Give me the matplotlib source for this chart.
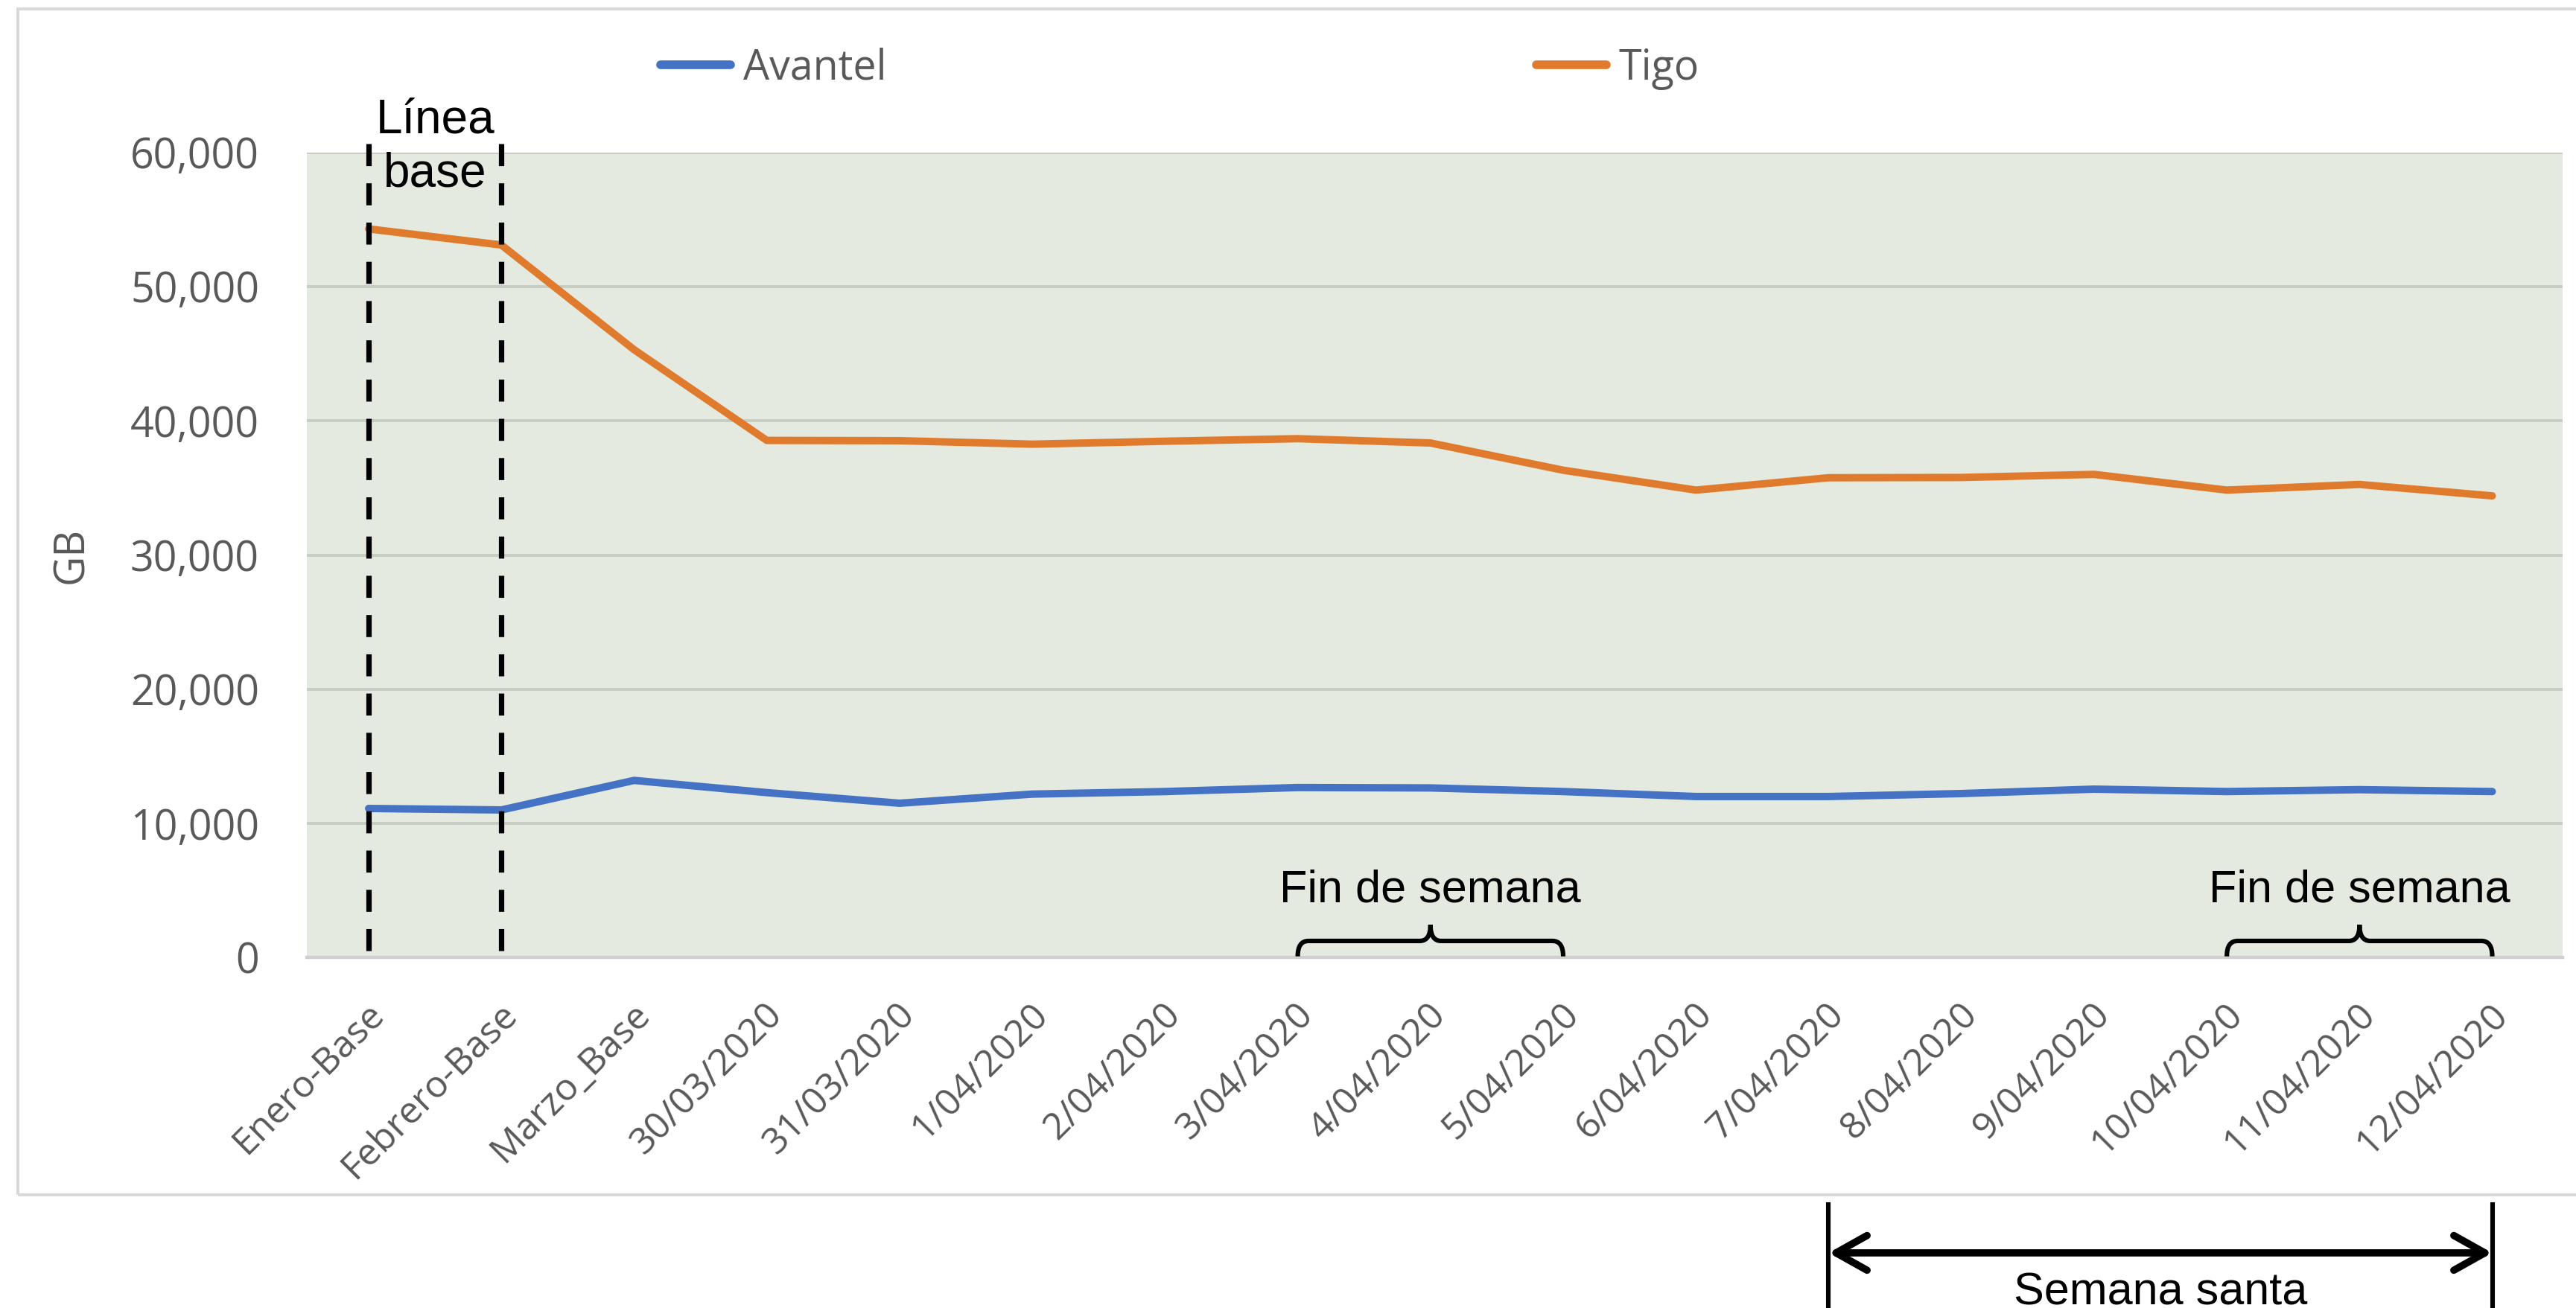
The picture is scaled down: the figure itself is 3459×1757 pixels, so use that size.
import matplotlib
matplotlib.use("Agg")
import matplotlib.pyplot as plt
from matplotlib.path import Path
from matplotlib.patches import PathPatch, Rectangle
from matplotlib.ticker import FuncFormatter
import matplotlib.transforms as mtransforms

# ── datos ─────────────────────────────────────────────
categorias = ["Enero-Base", "Febrero-Base", "Marzo_Base", "30/03/2020", "31/03/2020",
              "1/04/2020", "2/04/2020", "3/04/2020", "4/04/2020", "5/04/2020",
              "6/04/2020", "7/04/2020", "8/04/2020", "9/04/2020", "10/04/2020",
              "11/04/2020", "12/04/2020"]
avantel = [11120, 11010, 13210, 12300, 11510, 12190, 12380, 12680, 12650, 12380,
           12010, 12010, 12230, 12560, 12380, 12520, 12380]
tigo = [54300, 53100, 45300, 38540, 38520, 38260, 38480, 38670, 38350, 36320,
        34840, 35760, 35780, 36010, 34840, 35260, 34410]
yticks = [0, 10000, 20000, 30000, 40000, 50000, 60000]

C_AVANTEL = "#4472C4"
C_TIGO = "#E07B2E"
GRIS = "#595959"
FONDO = "#E4EADF"
GRID = "#C6CEC1"

fig = plt.figure(figsize=(17.295, 8.785), dpi=200)
ax = fig.add_axes([0.1191, 0.2678, 0.8757, 0.6157])
ax.set_facecolor(FONDO)

x = list(range(len(categorias)))
ax.plot(x, avantel, color=C_AVANTEL, lw=3.6, label="Avantel",
        solid_capstyle="round", solid_joinstyle="round", zorder=3)
ax.plot(x, tigo, color=C_TIGO, lw=3.6, label="Tigo",
        solid_capstyle="round", solid_joinstyle="round", zorder=3)

ax.set_xlim(-0.466, 16.53)
ax.set_ylim(0, 60000)
ax.set_yticks(yticks)
ax.yaxis.set_major_formatter(FuncFormatter(lambda v, p: f"{int(v):,}"))
ax.yaxis.grid(True, color=GRID, lw=1.4, zorder=0)
ax.set_axisbelow(True)
for s in ["top", "right", "left"]:
    ax.spines[s].set_visible(False)
ax.spines["bottom"].set_color("#D0D0D0")
ax.spines["bottom"].set_linewidth(1.6)

ax.set_xticks(x)
ax.set_xticklabels(categorias, rotation=45, ha="right", va="center",
                   rotation_mode="anchor", fontsize=18, color=GRIS, family="Open Sans")
ax.tick_params(axis="x", length=0, pad=25)
ax.tick_params(axis="y", length=0, pad=23, labelsize=20, labelcolor=GRIS)
for lbl in ax.get_yticklabels():
    lbl.set_family("Open Sans")
# desplazar un poco las etiquetas del eje x hacia la derecha
off = mtransforms.ScaledTranslation(5 / 72, 0, fig.dpi_scale_trans)
for lbl in ax.get_xticklabels():
    lbl.set_transform(lbl.get_transform() + off)

ax.set_ylabel("GB", fontsize=20, color=GRIS, family="Open Sans")
ax.yaxis.set_label_coords(-0.0948, 0.5)

# leyenda
leg = ax.legend(loc="center left", bbox_to_anchor=(0.2564, 0.9476),
                bbox_transform=fig.transFigure, ncol=2, frameon=False,
                prop={"family": "Open Sans", "size": 20}, handlelength=1.7,
                handletextpad=0.3, columnspacing=15.7, borderpad=0, borderaxespad=0)
for t in leg.get_texts():
    t.set_color(GRIS)
for h in leg.get_lines():
    h.set_linewidth(4.2)
    h.set_solid_capstyle("round")

# línea base
for xb in [0, 1]:
    ax.plot([xb, xb], [60650, -750], color="black", lw=2.6,
            linestyle=(0, (4.1, 3.2)), clip_on=False, zorder=4)
ax.text(0.5, 60400, "Línea\nbase", ha="center", va="center", fontsize=23,
        family="Liberation Sans", color="black", linespacing=1.25, clip_on=False)


# llaves "Fin de semana"
def llave(x0, x1, y_base, y_bar, y_tip, r=0.08):
    xm = (x0 + x1) / 2
    verts = [(x0, y_base), (x0, y_bar), (x0 + r, y_bar),
             (xm - r, y_bar), (xm, y_bar), (xm, y_tip),
             (xm, y_bar), (xm + r, y_bar),
             (x1 - r, y_bar), (x1, y_bar), (x1, y_base)]
    codes = [Path.MOVETO, Path.CURVE3, Path.CURVE3,
             Path.LINETO, Path.CURVE3, Path.CURVE3,
             Path.CURVE3, Path.CURVE3,
             Path.LINETO, Path.CURVE3, Path.CURVE3]
    ax.add_patch(PathPatch(Path(verts, codes), fill=False, lw=2.2,
                           edgecolor="black", zorder=4, clip_on=False))


for x0, x1 in [(7, 9), (14, 16)]:
    llave(x0, x1, 100, 1250, 2450)
    ax.text((x0 + x1) / 2, 5000, "Fin de semana", ha="center", va="center",
            fontsize=22, family="Liberation Sans", color="black")

# Semana santa
trans = mtransforms.blended_transform_factory(ax.transData, ax.transAxes)
for xs in [11, 16]:
    ax.plot([xs, xs], [-0.3064, -0.44], transform=trans, color="black",
            lw=2.2, clip_on=False)
ax.annotate("", xy=(16, -0.3665), xytext=(11, -0.3665), xycoords=trans,
            textcoords=trans, annotation_clip=False,
            arrowprops=dict(arrowstyle="<->,head_length=0.75,head_width=0.42",
                            lw=3.5, color="black", shrinkA=0, shrinkB=0,
                            mutation_scale=20, capstyle="round"))
ax.text(13.5, -0.431, "Semana santa", transform=trans, ha="center",
        va="baseline", fontsize=22, family="Liberation Sans", color="black")

# marco exterior
fig.patches.append(Rectangle((0.0069, 0.0865), 1.0, 0.9067, transform=fig.transFigure,
                             fill=False, edgecolor="#D9D9D9", lw=1.5, zorder=0))

fig.savefig("out.png", dpi=200, facecolor="white")
